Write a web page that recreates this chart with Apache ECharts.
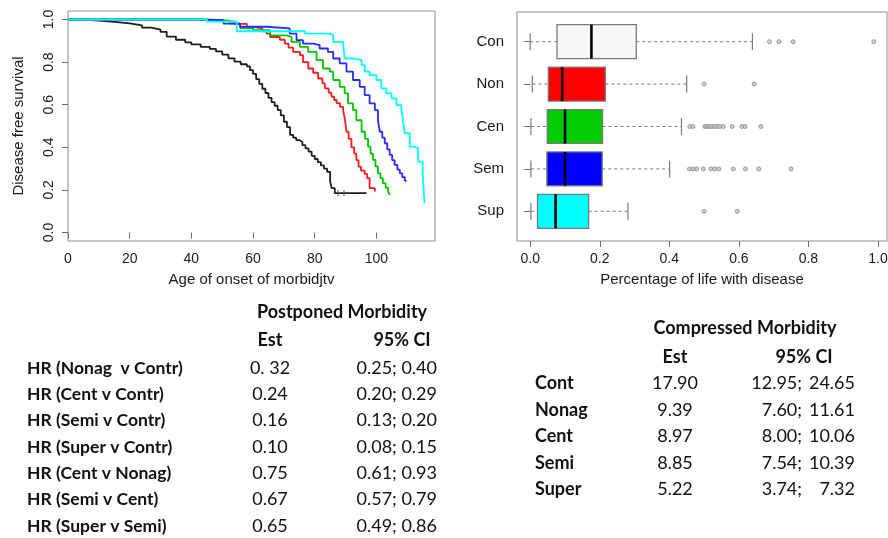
<!DOCTYPE html>
<html>
<head>
<meta charset="utf-8">
<script src="https://cdn.jsdelivr.net/npm/echarts@6/dist/echarts.min.js"></script>
<style>
html,body{margin:0;padding:0;background:#fff;}
#chart{width:888px;height:538px;}
</style>
</head>
<body>
<div id="chart"></div>
<script>
// ---------- Kaplan-Meier curves (age, disease free survival) ----------
var contrAge = [0, 5, 10, 15, 20, 24, 27, 30, 32, 35, 38, 40, 43, 46, 48, 50, 52, 54, 56, 58, 59, 60, 61, 62, 63, 64, 65, 66, 67, 68, 69, 70, 71, 72, 73, 74, 75, 76, 77, 78, 79, 80, 81, 82, 83, 84, 85, 85.5, 86.5, 96.8];
var contrSurv = [1, 0.995, 0.989, 0.982, 0.973, 0.962, 0.953, 0.942, 0.92, 0.905, 0.893, 0.883, 0.872, 0.862, 0.85, 0.835, 0.818, 0.802, 0.79, 0.78, 0.762, 0.745, 0.72, 0.698, 0.675, 0.655, 0.632, 0.612, 0.595, 0.575, 0.55, 0.52, 0.495, 0.458, 0.445, 0.434, 0.425, 0.41, 0.395, 0.38, 0.36, 0.345, 0.33, 0.315, 0.3, 0.285, 0.24, 0.208, 0.185, 0.185];
var contrCensorAge = [87.5, 89.5];
var contrCensorSurv = [0.185, 0.185];

var nonagAge = [0, 40, 48, 54, 58, 60, 63, 64.4, 65.5, 68.7, 70.3, 71.5, 73, 75.2, 76.2, 77.9, 79.5, 81.1, 82.5, 83.3, 84.5, 85.4, 86.3, 87.1, 88.2, 89.2, 89.8, 90.3, 91, 91.9, 92.8, 93.5, 94.2, 95, 96.2, 97, 97.8, 99.5];
var nonagSurv = [1, 0.997, 0.99, 0.98, 0.965, 0.958, 0.945, 0.934, 0.918, 0.905, 0.887, 0.868, 0.848, 0.833, 0.8, 0.77, 0.75, 0.723, 0.7, 0.677, 0.657, 0.638, 0.622, 0.607, 0.59, 0.575, 0.53, 0.473, 0.44, 0.4, 0.37, 0.34, 0.309, 0.29, 0.275, 0.255, 0.208, 0.192];

var centAge = [0, 45, 52.5, 55.8, 60, 65.5, 70.9, 72.5, 75.2, 77.9, 80.6, 82.7, 84.9, 86, 88.1, 89.7, 90.8, 92.4, 93.5, 95.2, 96.3, 97.3, 98.1, 98.9, 99.7, 100.5, 101.3, 102.1, 103, 103.8, 104.3];
var centSurv = [1, 0.995, 0.981, 0.96, 0.95, 0.926, 0.918, 0.895, 0.872, 0.848, 0.809, 0.77, 0.755, 0.716, 0.684, 0.653, 0.606, 0.575, 0.527, 0.473, 0.44, 0.403, 0.37, 0.341, 0.31, 0.278, 0.255, 0.231, 0.21, 0.192, 0.177];

var semiAge = [0, 39.6, 50.4, 55.8, 64.4, 71.9, 74.1, 76.2, 79.5, 81.6, 84.3, 86, 88.1, 90.3, 92.4, 94.6, 96.2, 97.8, 99.5, 100.5, 101.1, 101.9, 102.7, 103.5, 104.3, 105.1, 105.9, 106.8, 107.6, 108.4, 109.2, 109.7];
var semiSurv = [1, 0.997, 0.981, 0.966, 0.958, 0.934, 0.903, 0.887, 0.88, 0.864, 0.848, 0.817, 0.794, 0.755, 0.716, 0.684, 0.645, 0.606, 0.575, 0.528, 0.473, 0.445, 0.419, 0.39, 0.364, 0.34, 0.317, 0.295, 0.278, 0.26, 0.247, 0.239];

var superAge = [0, 45, 54.7, 76.8, 84.9, 86, 89.2, 89.7, 92.4, 95.2, 96.2, 97.8, 100, 101.6, 103.2, 104.9, 106.5, 108.1, 108.6, 109.2, 110.8, 112.4, 113.5, 115, 115.6];
var superSurv = [1, 0.99, 0.945, 0.934, 0.926, 0.895, 0.887, 0.817, 0.809, 0.786, 0.755, 0.739, 0.716, 0.677, 0.653, 0.63, 0.598, 0.575, 0.528, 0.466, 0.403, 0.395, 0.333, 0.278, 0.138];

var kmXTicks = [0, 20, 40, 60, 80, 100];
var kmYTicks = [0, 0.2, 0.4, 0.6, 0.8, 1.0];

// ---------- Boxplots: percentage of life with disease ----------
var boxNames = ['Con', 'Non', 'Cen', 'Sem', 'Sup'];
var boxMin = [0.0, 0.006, 0.002, 0.002, 0.002];
var boxQ1 = [0.077, 0.052, 0.049, 0.048, 0.021];
var boxMed = [0.176, 0.092, 0.100, 0.100, 0.073];
var boxQ3 = [0.305, 0.216, 0.208, 0.207, 0.168];
var boxMax = [0.639, 0.450, 0.435, 0.401, 0.281];
var conOut = [0.688, 0.715, 0.756, 0.988];
var nonOut = [0.500, 0.644];
var cenOut = [0.459, 0.468, 0.502, 0.508, 0.515, 0.522, 0.530, 0.538, 0.545, 0.555, 0.581, 0.609, 0.618, 0.663];
var semOut = [0.458, 0.469, 0.479, 0.498, 0.519, 0.530, 0.542, 0.584, 0.619, 0.657, 0.750];
var supOut = [0.500, 0.595];
var boxXTicks = [0, 0.2, 0.4, 0.6, 0.8, 1.0];

// ---------- Tables ----------
var pmTitle = 'Postponed Morbidity';
var pmLabels = ['HR (Nonag  v Contr)', 'HR (Cent v Contr)', 'HR (Semi v Contr)', 'HR (Super v Contr)', 'HR (Cent v Nonag)', 'HR (Semi v Cent)', 'HR (Super v Semi)'];
var pmEst = ['0. 32', '0.24', '0.16', '0.10', '0.75', '0.67', '0.65'];
var pmCI = ['0.25; 0.40', '0.20; 0.29', '0.13; 0.20', '0.08; 0.15', '0.61; 0.93', '0.57; 0.79', '0.49; 0.86'];

var cmTitle = 'Compressed Morbidity';
var cmLabels = ['Cont', 'Nonag', 'Cent', 'Semi', 'Super'];
var cmEst = ['17.90', '9.39', '8.97', '8.85', '5.22'];
var cmLo = ['12.95;', '7.60;', '8.00;', '7.54;', '3.74;'];
var cmHi = ['24.65', '11.61', '10.06', '10.39', '7.32'];

// ---------- styles ----------
var kmColors = ['#1e1e1e', '#ff1a1a', '#00c800', '#2a2aff', '#00ffff'];
var boxColors = ['#f7f7f7', '#ff0000', '#00cd00', '#0000ff', '#00ffff'];
var FONT = 'Liberation Sans, Arial, sans-serif';
var TFONT = 'Lato, Open Sans, sans-serif';
var frameColor = '#8c8c8c';
var tickColor = '#6e6e6e';

function zip(a, b) { return a.map(function (v, i) { return [v, b[i]]; }); }

var kmSets = [[contrAge, contrSurv], [nonagAge, nonagSurv], [centAge, centSurv], [semiAge, semiSurv], [superAge, superSurv]];
var kmSeries = kmSets.map(function (s, i) {
  return {
    type: 'line', xAxisIndex: 0, yAxisIndex: 0, step: 'end', showSymbol: false, symbol: 'none',
    data: zip(s[0], s[1]), lineStyle: { color: kmColors[i], width: 1.8 }, silent: true, z: 2 + i
  };
});
kmSeries.push({
  type: 'scatter', xAxisIndex: 0, yAxisIndex: 0, silent: true, z: 3,
  symbol: 'rect', symbolSize: [1.2, 6], itemStyle: { color: '#555' },
  data: zip(contrCensorAge, contrCensorSurv)
});

var boxData = boxNames.map(function (n, i) { return [i + 1, boxMin[i], boxQ1[i], boxMed[i], boxQ3[i], boxMax[i]]; });
var outSets = [conOut, nonOut, cenOut, semOut, supOut];
var outData = [];
outSets.forEach(function (arr, i) { arr.forEach(function (v) { outData.push([v, i + 1]); }); });

function axisCommon(labelRotate) {
  return {
    axisLine: { show: false },
    axisTick: { show: true, inside: false, length: 6, lineStyle: { color: tickColor, width: 1 } },
    axisLabel: { color: '#1a1a1a', fontFamily: FONT, fontSize: 14, margin: 11, rotate: labelRotate || 0 },
    splitLine: { show: false }
  };
}

var chart = echarts.init(document.getElementById('chart'), null, { renderer: 'canvas' });

var graphics = [];
function txt(x, y, t, opt) {
  opt = opt || {};
  graphics.push({
    type: 'text', x: x, y: y, silent: true,
    style: {
      text: t, fill: '#111', fontFamily: TFONT, fontSize: opt.size || 18,
      fontWeight: opt.bold ? 'bold' : 'normal', align: opt.align || 'left', verticalAlign: 'middle'
    }
  });
}
// Postponed morbidity table
txt(342, 312, pmTitle, { bold: true, align: 'center' });
txt(270, 340, 'Est', { bold: true, align: 'center' });
txt(402, 340, '95% CI', { bold: true, align: 'center' });
var pmY = [368, 394, 420.5, 447, 473, 499.5, 526];
pmLabels.forEach(function (l, i) {
  txt(27, pmY[i], l, { bold: true, size: 17.5 });
  txt(270, pmY[i], pmEst[i], { align: 'center' });
  txt(437, pmY[i], pmCI[i], { align: 'right' });
});
// Compressed morbidity table
txt(745, 328, cmTitle, { bold: true, align: 'center' });
txt(675, 357, 'Est', { bold: true, align: 'center' });
txt(804, 357, '95% CI', { bold: true, align: 'center' });
var cmY = [383.5, 410, 436.5, 463, 489.5];
cmLabels.forEach(function (l, i) {
  txt(535, cmY[i], l, { bold: true });
  txt(675, cmY[i], cmEst[i], { align: 'center' });
  txt(802, cmY[i], cmLo[i], { align: 'right' });
  txt(855, cmY[i], cmHi[i], { align: 'right' });
});

var kmX = axisCommon(0);
kmX.axisTick.customValues = kmXTicks;
kmX.axisLabel.customValues = kmXTicks;
var kmY = axisCommon(90);
kmY.axisTick.customValues = kmYTicks;
kmY.axisLabel.customValues = kmYTicks;
kmY.axisLabel.margin = 12;
kmY.axisLabel.formatter = function (v) { return v.toFixed(1); };

var bxX = axisCommon(0);
bxX.axisTick.customValues = boxXTicks;
bxX.axisLabel.customValues = boxXTicks;
bxX.axisLabel.formatter = function (v) { return v.toFixed(1); };
var bxY = axisCommon(0);
bxY.axisTick.customValues = [1, 2, 3, 4, 5];
bxY.axisLabel.customValues = [1, 2, 3, 4, 5];
bxY.axisLabel.fontSize = 15;
bxY.axisLabel.margin = 13;
bxY.axisLabel.formatter = function (v) { return boxNames[Math.round(v) - 1]; };

var option = {
  animation: false,
  backgroundColor: '#ffffff',
  grid: [
    { left: 68, top: 11, width: 367, height: 230, show: true, borderColor: frameColor, borderWidth: 1, backgroundColor: 'transparent', containLabel: false, outerBoundsMode: 'none' },
    { left: 517, top: 12, width: 370, height: 229, show: true, borderColor: frameColor, borderWidth: 1, backgroundColor: 'transparent', containLabel: false, outerBoundsMode: 'none' }
  ],
  xAxis: [
    Object.assign({ type: 'value', gridIndex: 0, min: 0, max: 119, name: 'Age of onset of morbidjtv', nameLocation: 'middle', nameGap: 31,
      nameTextStyle: { color: '#1a1a1a', fontFamily: FONT, fontSize: 15 } }, kmX),
    Object.assign({ type: 'value', gridIndex: 1, min: -0.038, max: 1.026, name: 'Percentage of life with disease', nameLocation: 'middle', nameGap: 31,
      nameTextStyle: { color: '#1a1a1a', fontFamily: FONT, fontSize: 15 } }, bxX)
  ],
  yAxis: [
    Object.assign({ type: 'value', gridIndex: 0, min: -0.04, max: 1.04, name: 'Disease free survival', nameLocation: 'middle', nameGap: 42,
      nameTextStyle: { color: '#1a1a1a', fontFamily: FONT, fontSize: 15 } }, kmY),
    Object.assign({ type: 'value', gridIndex: 1, min: 0.3, max: 5.7, inverse: true }, bxY)
  ],
  graphic: graphics,
  series: kmSeries.concat([
    {
      type: 'custom', xAxisIndex: 1, yAxisIndex: 1, silent: true, z: 3,
      encode: { x: [1, 2, 3, 4, 5], y: 0 },
      data: boxData,
      renderItem: function (params, api) {
        var pos = api.value(0);
        var pLo = api.coord([api.value(1), pos]);
        var pQ1 = api.coord([api.value(2), pos]);
        var pMed = api.coord([api.value(3), pos]);
        var pQ3 = api.coord([api.value(4), pos]);
        var pHi = api.coord([api.value(5), pos]);
        var half = Math.abs(api.size([0, 0.4])[1]);
        var cap = Math.abs(api.size([0, 0.2])[1]);
        var col = boxColors[params.dataIndex];
        var wStyle = { stroke: '#7a7a7a', lineWidth: 1, lineDash: [3, 3] };
        var sStyle = { stroke: '#7a7a7a', lineWidth: 1.2 };
        return {
          type: 'group', children: [
            { type: 'line', shape: { x1: pLo[0], y1: pLo[1], x2: pQ1[0], y2: pQ1[1] }, style: wStyle },
            { type: 'line', shape: { x1: pQ3[0], y1: pQ3[1], x2: pHi[0], y2: pHi[1] }, style: wStyle },
            { type: 'line', shape: { x1: pLo[0], y1: pLo[1] - cap, x2: pLo[0], y2: pLo[1] + cap }, style: sStyle },
            { type: 'line', shape: { x1: pHi[0], y1: pHi[1] - cap, x2: pHi[0], y2: pHi[1] + cap }, style: sStyle },
            { type: 'rect', shape: { x: pQ1[0], y: pQ1[1] - half, width: pQ3[0] - pQ1[0], height: 2 * half }, style: { fill: col, stroke: '#7a7a7a', lineWidth: 1.3 } },
            { type: 'line', shape: { x1: pMed[0], y1: pMed[1] - half, x2: pMed[0], y2: pMed[1] + half }, style: { stroke: '#000', lineWidth: 2.6 } }
          ]
        };
      }
    },
    {
      type: 'scatter', xAxisIndex: 1, yAxisIndex: 1, silent: true, z: 4,
      symbol: 'circle', symbolSize: 4,
      itemStyle: { color: '#c4c4c4', borderColor: '#888888', borderWidth: 1 },
      data: outData
    }
  ])
};
chart.setOption(option);
</script>
</body>
</html>
